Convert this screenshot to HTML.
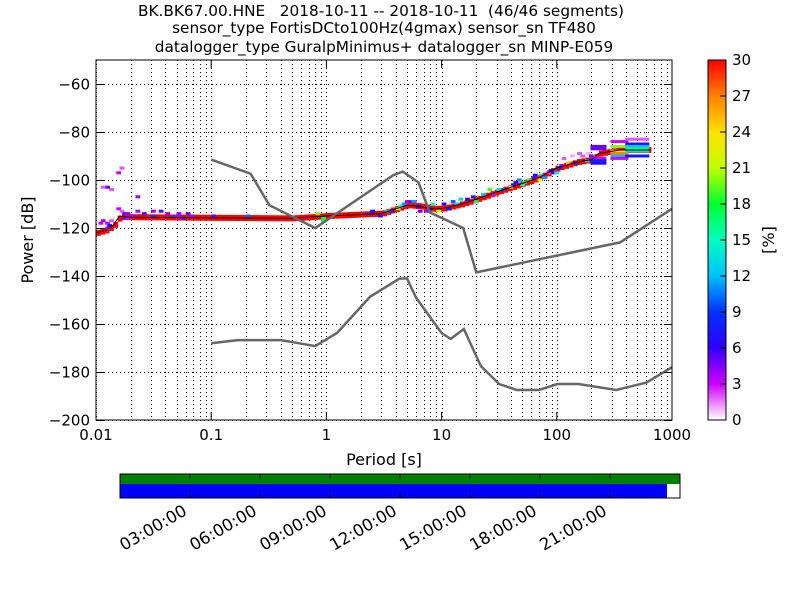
<!DOCTYPE html>
<html><head><meta charset="utf-8"><style>
body{margin:0;background:#fff;}
svg text{font-family:"DejaVu Sans","Liberation Sans",sans-serif;fill:#000;white-space:pre;}
</style></head><body>
<svg id="c" width="800" height="600" xmlns="http://www.w3.org/2000/svg">
<defs>
<linearGradient id="cmap" x1="0" y1="1" x2="0" y2="0">
<stop offset="0" stop-color="#ffffff"/><stop offset="0.1" stop-color="#d000ff"/>
<stop offset="0.2" stop-color="#3000ff"/><stop offset="0.3" stop-color="#0030ff"/>
<stop offset="0.4" stop-color="#00c0ff"/><stop offset="0.5" stop-color="#00ffc0"/>
<stop offset="0.6" stop-color="#00ff30"/><stop offset="0.7" stop-color="#c0ff00"/>
<stop offset="0.8" stop-color="#ffe000"/><stop offset="0.9" stop-color="#ff8000"/>
<stop offset="1" stop-color="#ff0000"/></linearGradient></defs>
<text x="381" y="16" text-anchor="middle" font-size="15.3" xml:space="preserve">BK.BK67.00.HNE   2018-10-11 -- 2018-10-11  (46/46 segments)</text>
<text x="384" y="33" text-anchor="middle" font-size="15.3">sensor_type FortisDCto100Hz(4gmax) sensor_sn TF480</text>
<text x="384" y="52" text-anchor="middle" font-size="15.3">datalogger_type GuralpMinimus+ datalogger_sn MINP-E059</text>
<g id="grid"></g><g id="heat"></g><g id="lines"></g><g id="axes"></g>
<rect x="96" y="60" width="576" height="360" fill="none" stroke="#000" stroke-width="1"/>
<text x="384" y="465" text-anchor="middle" font-size="16">Period [s]</text>
<text transform="translate(33,240) rotate(-90)" text-anchor="middle" font-size="16">Power [dB]</text>
<rect x="708" y="60" width="18" height="360" fill="url(#cmap)" stroke="#000"/>
<g id="cbar"></g>
<text transform="translate(774,240) rotate(-90)" text-anchor="middle" font-size="16">[%]</text>
<g>
<rect x="120" y="474" width="560" height="10" fill="#008000"/>
<rect x="120" y="484" width="547" height="14" fill="#0000ff"/>
<rect x="120" y="474" width="560" height="24" fill="none" stroke="#000"/>
<g id="tl"></g></g>
</svg>
<script>
const NS="http://www.w3.org/2000/svg";
function mk(p,t,a){const e=document.createElementNS(NS,t);for(const k in a)e.setAttribute(k,a[k]);p.appendChild(e);return e;}
const X=p=>96+(Math.log10(p)+2)*115.2;
const Y=d=>60+(-50-d)*2.4;
// data
const yTicks=[-200,-180,-160,-140,-120,-100,-80,-60];
const xTicks=[0.01,0.1,1,10,100,1000];
const xTickLabels=["0.01","0.1","1","10","100","1000"];
const cbTicks=[0,3,6,9,12,15,18,21,24,27,30];
const timeLabels=["03:00:00","06:00:00","09:00:00","12:00:00","15:00:00","18:00:00","21:00:00"];
const nhnmP=[0.1,0.22,0.32,0.8,3.8,4.6,6.3,7.9,15.4,20,354,1000];
const nhnmDb=[-91.5,-97.4,-110.5,-120,-98,-96.5,-101,-113.5,-120,-138.5,-126,-112];
const nlnmP=[0.1,0.17,0.4,0.8,1.24,2.4,4.3,5,6,10,12,15.6,21.9,31.6,45,70,101,154,328,600,1000];
const nlnmDb=[-168,-166.7,-166.7,-169.2,-163.7,-148.6,-141.1,-141,-149,-163.8,-166.2,-162.1,-177.5,-185,-187.5,-187.5,-185,-185,-187.5,-184.4,-178];
const meanP=[0.01,0.012,0.014,0.016,0.02,0.5,1,3,4,5,6.5,8,10,15,20,30,50,70,100,150,200,230,350,650];
const meanDb=[-122,-121,-119,-115,-115.5,-116,-115,-114,-112,-110.5,-111,-112,-112,-110,-108,-105,-101.5,-99,-95,-92.5,-91.5,-89,-87.5,-87.5];
// scatter cells: period, dB, percent
const cellP=[0.0105,0.011,0.012,0.013,0.015,0.016,0.017,0.018,0.02,0.022,0.025,0.03,0.035,0.04,0.05,0.06,0.015,0.016,0.013,0.012,0.011,0.022,0.03,0.05,0.1,0.2,0.8,0.9,2.2,2.8,3.5,4,4.5,5,6,7,8,10,12,14,18,25,30,40,45,50,60,70,80,90,100,110,130,150,180,
 0.012,0.0125,0.017,0.018,0.045,0.055,0.065,0.9,2.4,3.2,4.2,4.8,5.5,6.2,7.5,9,11,13,16,19,22,27,33,38,42,48,55,62,68,75,85,95,105,120,140,160,175,190,
 230,230,230,230,230,350,350,350,350,350,350,500,500,500,500,500,500];
const cellDb=[-118,-117,-118,-117,-112,-113,-114,-114,-115,-113,-114,-113,-113,-114,-114,-114,-97,-95,-104,-103,-103,-107,-115,-115,-115,-115,-114,-117,-114,-115,-113,-112,-110,-109,-111,-113,-110,-110,-109,-108,-107,-104,-104,-102,-100,-101,-99,-98,-97,-97,-95,-91,-90,-89,-89,
 -120,-119,-116,-116,-115,-116,-115,-116,-113,-113,-111,-109,-109,-113,-112,-113,-112,-110,-108,-109,-106,-106,-104,-103,-101,-102,-100,-98,-100,-99,-96,-97,-94,-93,-93,-90,-92,-90,
 -86,-87,-93,-91,-92,-84,-86,-88,-89,-90,-91,-83,-85,-86,-87,-88,-90];
const cellPct=[3,4,3,2,3,2,5,4,4,4,5,4,5,4,4,5,3,2,2,5,2,4,5,4,5,10,20,17,5,6,8,20,11,9,6,4,15,6,10,13,8,19,14,7,11,16,5,13,2,6,9,2,1,2,1,
 3,6,5,3,4,5,4,18,7,12,15,4,11,5,9,21,8,13,6,17,12,3,10,24,7,15,19,6,22,11,8,14,4,25,9,2,13,5,
 5,5,6,3,8,3,20,23,27,12,3,2,6,12,17,13,7];
function col(v){const s=[[0,[255,255,255]],[3,[208,0,255]],[6,[48,0,255]],[9,[0,48,255]],[12,[0,192,255]],[15,[0,255,192]],[18,[0,255,48]],[21,[192,255,0]],[24,[255,224,0]],[27,[255,128,0]],[30,[255,0,0]]];
 v=Math.max(0,Math.min(30,v));for(let i=1;i<s.length;i++)if(v<=s[i][0]){const t=(v-s[i-1][0])/3;const c=s[i-1][1].map((a,j)=>Math.round(a+(s[i][1][j]-a)*t));return `rgb(${c})`;}return "red";}
const grid=document.getElementById('grid'),heat=document.getElementById('heat'),lines=document.getElementById('lines'),axes=document.getElementById('axes');
for(let e=-2;e<3;e++)for(let m=1;m<10;m++){const p=m*Math.pow(10,e);const x=Math.round(X(p))+0.5;
 const g=mk(grid,'line',{x1:x,x2:x,y1:60,y2:420,stroke:'#000','stroke-dasharray':'1,3','stroke-width':1});
 }
yTicks.forEach(d=>{const y=Math.round(Y(d))+0.5;const g=mk(grid,'line',{x1:96,x2:672,y1:y,y2:y,stroke:'#000','stroke-dasharray':'1,3'});
 
 const t=mk(axes,'text',{x:90,y:y+5,'text-anchor':'end','font-size':15});t.textContent=d<0?'\u2212'+(-d):d;
 
 mk(axes,'line',{x1:96,x2:104,y1:y,y2:y,stroke:'#000'});mk(axes,'line',{x1:664,x2:672,y1:y,y2:y,stroke:'#000'});});
xTicks.forEach((p,i)=>{const x=X(p);const t=mk(axes,'text',{x:x,y:440,'text-anchor':'middle','font-size':15});t.textContent=xTickLabels[i];
 
 mk(axes,'line',{x1:x,x2:x,y1:412,y2:420,stroke:'#000'});mk(axes,'line',{x1:x,x2:x,y1:60,y2:68,stroke:'#000'});});
function interp(p){const lp=Math.log10(p);for(let i=1;i<meanP.length;i++){const a=Math.log10(meanP[i-1]),b=Math.log10(meanP[i]);if(lp<=b){return meanDb[i-1]+(meanDb[i]-meanDb[i-1])*(lp-a)/(b-a);}}return meanDb[meanDb.length-1];}
const bw=115.2*Math.log10(2)/8;
for(let x=96;x<668;x+=bw){const p=Math.pow(10,(x-96)/115.2-2);if(p>650)break;const d=interp(p);
 const r=mk(heat,'rect',{x:x,y:Y(d)-3,width:bw+0.5,height:6,fill:'#ff0000'});
 }
cellP.forEach((p,i)=>{const w=p>=200?(p>=350?(p>=500?24:18):16):bw+0.5;const x=p>=200?X(p)-w/2:X(p);
 const r=mk(heat,'rect',{x:x,y:Y(cellDb[i])-1.5,width:w,height:3,fill:col(cellPct[i])});
 });
function poly(P,D,attrs,name){const pts=P.map((p,i)=>X(p)+','+Y(D[i])).join(' ');const e=mk(lines,'polyline',Object.assign({points:pts,fill:'none'},attrs));
 }
poly(meanP,meanDb,{stroke:'#000','stroke-width':1},'mean-line');
poly(nhnmP,nhnmDb,{stroke:'#666','stroke-width':2.5},'nhnm-curve');
poly(nlnmP,nlnmDb,{stroke:'#666','stroke-width':2.5},'nlnm-curve');
const cb=document.getElementById('cbar');
cbTicks.forEach(v=>{const y=420-v*12;mk(cb,'line',{x1:720,x2:726,y1:y,y2:y,stroke:'#000'});
 const t=mk(cb,'text',{x:732,y:y+5,'font-size':15});t.textContent=v;
 });
const tl=document.getElementById('tl');
for(let k=1;k<8;k++){const x=120+k*70;mk(tl,'line',{x1:x,x2:x,y1:474,y2:478,stroke:'#000'});mk(tl,'line',{x1:x,x2:x,y1:494,y2:498,stroke:'#000'});
 const t=mk(tl,'text',{x:x-2,y:514,'text-anchor':'end','font-size':16.5,transform:`rotate(-30 ${x-2} 514)`});t.textContent=timeLabels[k-1];
 }
</script>
</body></html>
